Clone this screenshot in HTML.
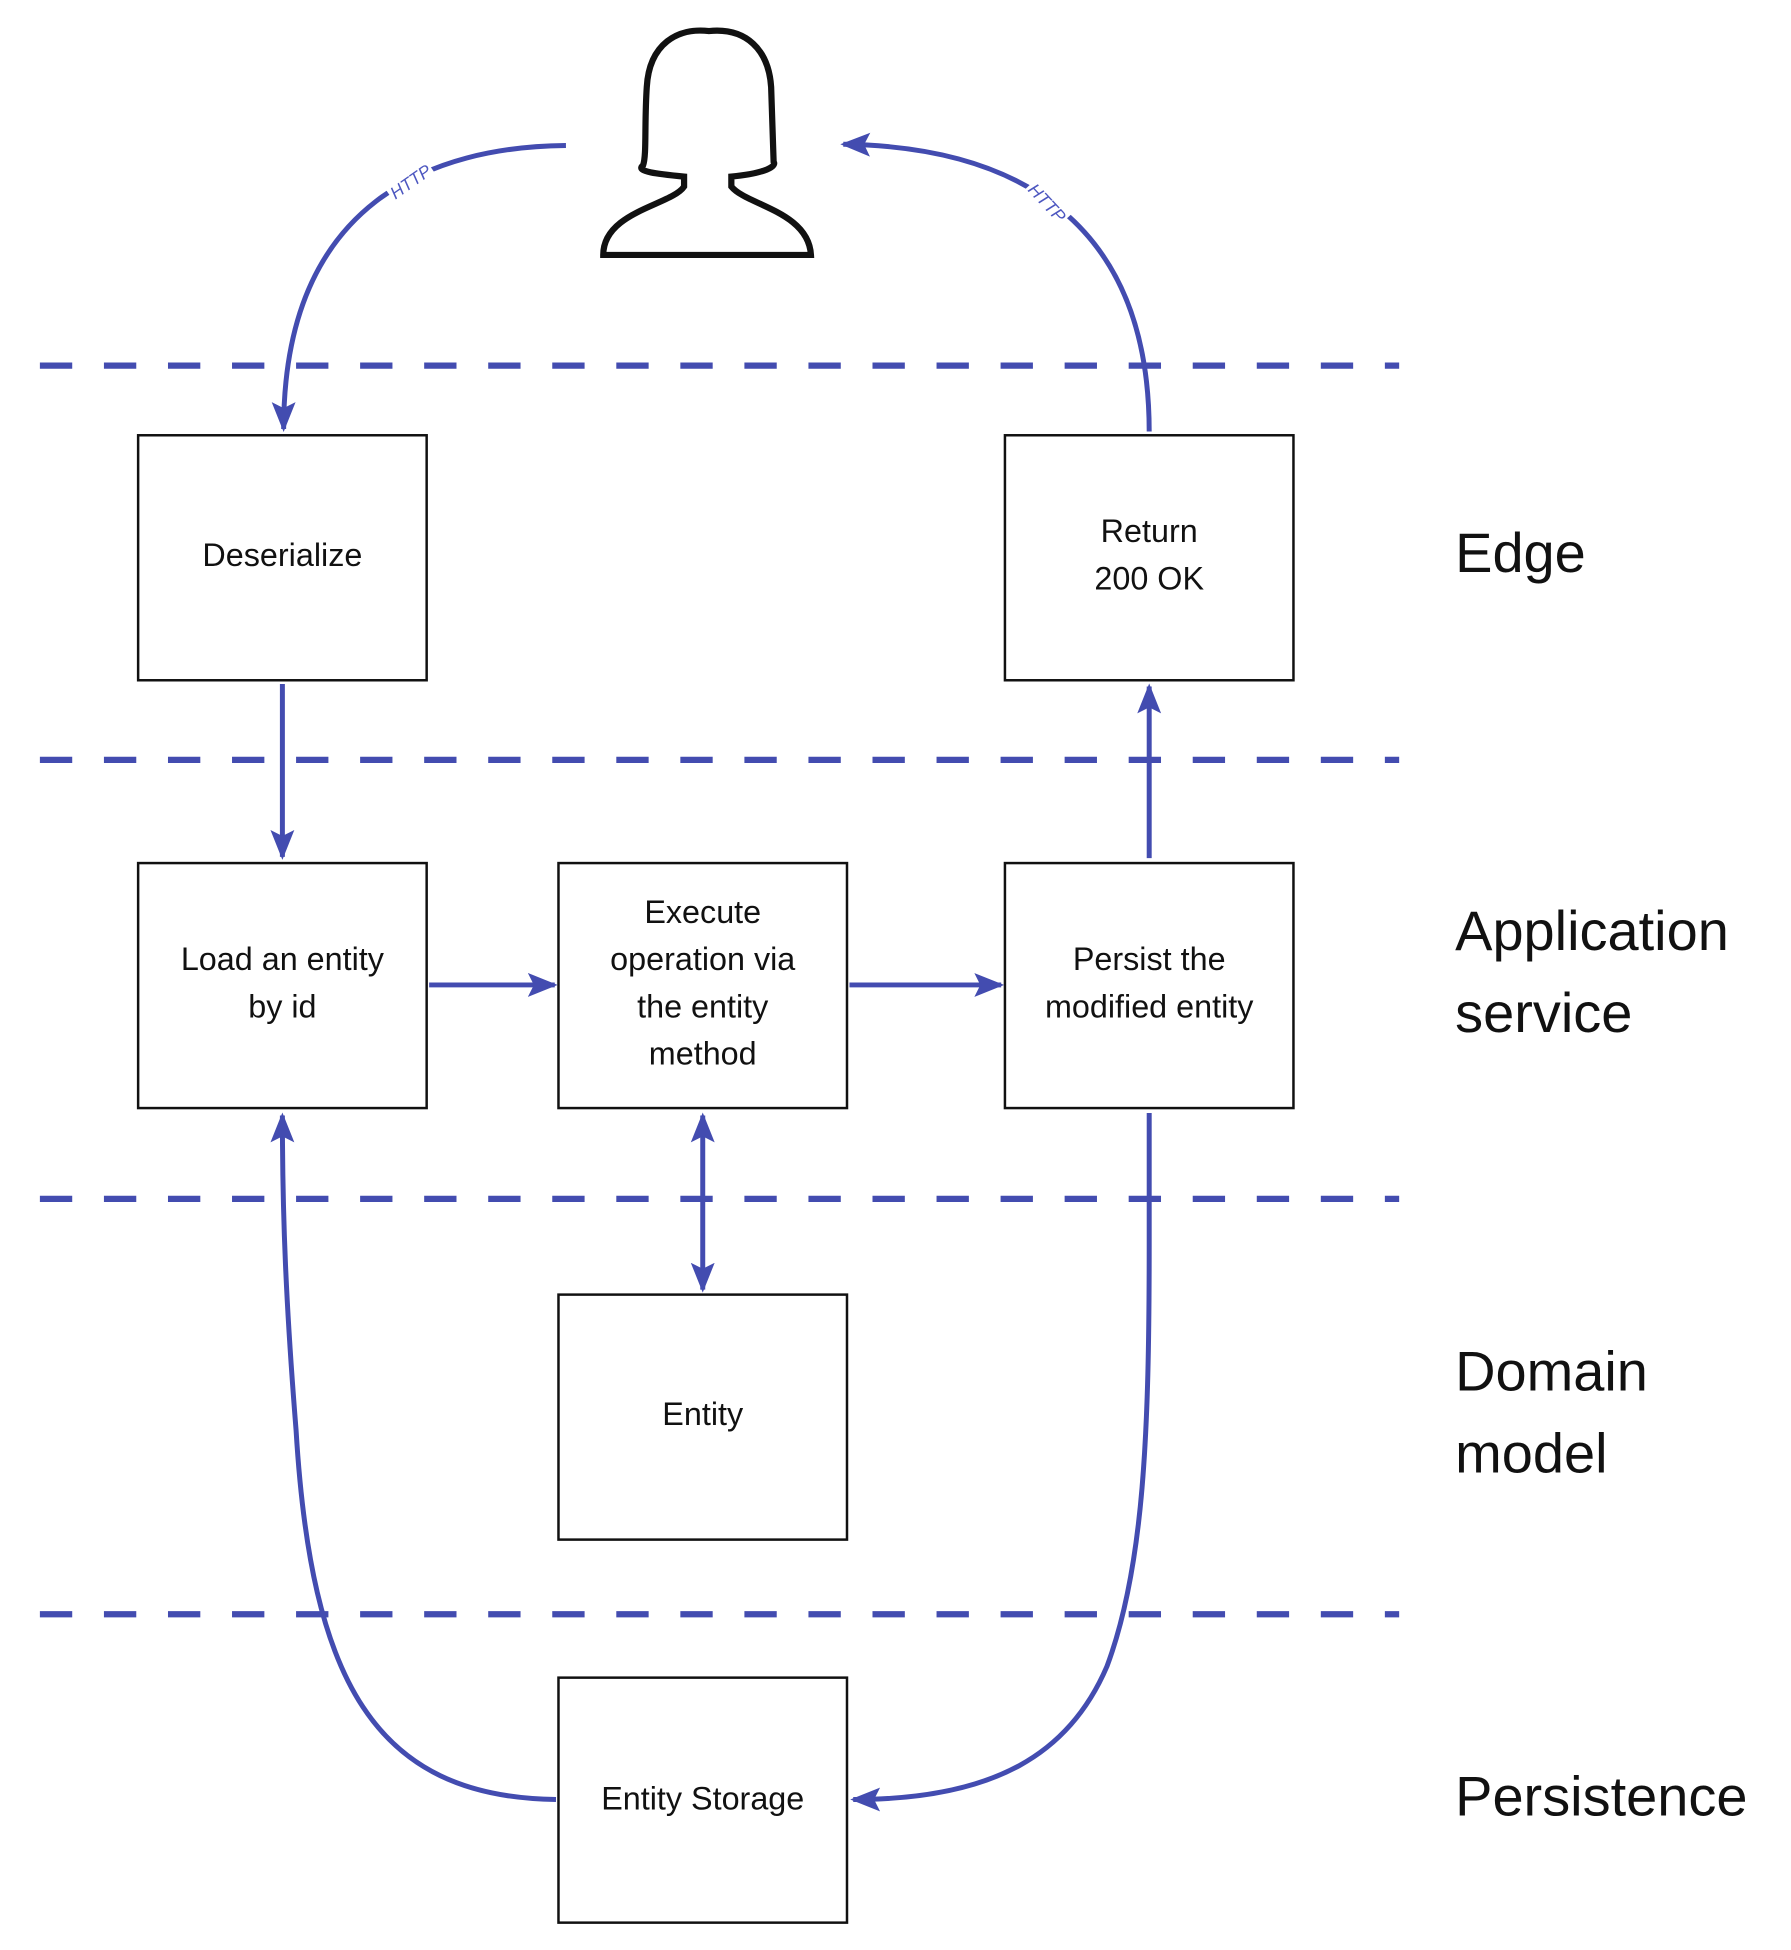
<!DOCTYPE html>
<html><head><meta charset="utf-8"><style>
html,body{margin:0;padding:0;background:#fff;}
svg{display:block;}
text{font-family:"Liberation Sans",sans-serif;fill:#111;}
text.h{fill:#4d57c0;font-style:italic;}
</style></head><body>
<svg width="1791" height="1950" viewBox="0 0 1440 1568" xmlns="http://www.w3.org/2000/svg">
<defs>
<marker id="a" viewBox="0 0 10 10" refX="9" refY="5" markerWidth="6" markerHeight="6" orient="auto-start-reverse" markerUnits="strokeWidth">
<path d="M0,1 L10,5 L0,9 L2,5 Z" fill="#434cb0"/></marker>
</defs>
<g stroke="#434cb0" stroke-width="5" stroke-dasharray="26 25.5">
<line x1="32" y1="294" x2="1125" y2="294"/>
<line x1="32" y1="611" x2="1125" y2="611"/>
<line x1="32" y1="964" x2="1125" y2="964"/>
<line x1="32" y1="1298" x2="1125" y2="1298"/>
</g>
<g fill="#fff" stroke="#111" stroke-width="2">
<rect x="111" y="350" width="232" height="197"/>
<rect x="808" y="350" width="232" height="197"/>
<rect x="111" y="694" width="232" height="197"/>
<rect x="449" y="694" width="232" height="197"/>
<rect x="808" y="694" width="232" height="197"/>
<rect x="449" y="1041" width="232" height="197"/>
<rect x="449" y="1349" width="232" height="197"/>
</g>
<g fill="none" stroke="#434cb0" stroke-width="4" marker-end="url(#a)">
<line x1="227" y1="550" x2="227" y2="689"/>
<line x1="924" y1="690" x2="924" y2="552"/>
<line x1="345" y1="792" x2="446" y2="792"/>
<line x1="683" y1="792" x2="805" y2="792"/>
<line x1="565" y1="897" x2="565" y2="1037" marker-start="url(#a)"/>
<path d="M447,1447 C300,1445 250,1350 238,1150 C230,1050 227,980 227,897"/>
<path d="M924,895 L924,1000 C924,1150 920,1260 890,1340 C860,1410 800,1447 686,1447"/>
<path d="M455,117 C350,118 228,160 228,345"/>
<path d="M924,347 C924,180 820,118 678,116"/>
</g>
<rect x="310" y="138" width="40" height="16" fill="#fff" transform="rotate(-35 330 146)"/>
<rect x="822" y="155" width="40" height="16" fill="#fff" transform="rotate(47 842 163)"/>
<text class="h" x="330" y="151" font-size="14" transform="rotate(-35 330 146)" text-anchor="middle">HTTP</text>
<text class="h" x="842" y="168" font-size="14" transform="rotate(47 842 163)" text-anchor="middle">HTTP</text>
<path d="M517,133 C520,125 518,100 520,70 C522,35 545,22 570,25 C600,22 618,40 620,70 L622,130 C625,135 610,140 588,142 L588,150 C600,165 650,170 652,205 L485,205 C485,170 540,165 550,150 L550,142 C530,140 510,138 517,133 Z" fill="none" stroke="#111" stroke-width="5"/>
<g font-size="26" text-anchor="middle">
<text x="227" y="455">Deserialize</text>
<text x="924" y="436">Return</text>
<text x="924" y="474">200 OK</text>
<text x="227" y="780">Load an entity</text>
<text x="227" y="818">by id</text>
<text x="565" y="742">Execute</text>
<text x="565" y="780">operation via</text>
<text x="565" y="818">the entity</text>
<text x="565" y="856">method</text>
<text x="924" y="780">Persist the</text>
<text x="924" y="818">modified entity</text>
<text x="565" y="1146">Entity</text>
<text x="565" y="1455">Entity Storage</text>
</g>
<g font-size="45">
<text x="1170" y="460">Edge</text>
<text x="1170" y="764">Application</text>
<text x="1170" y="830">service</text>
<text x="1170" y="1118">Domain</text>
<text x="1170" y="1184">model</text>
<text x="1170" y="1460">Persistence</text>
</g>
</svg>
</body></html>
